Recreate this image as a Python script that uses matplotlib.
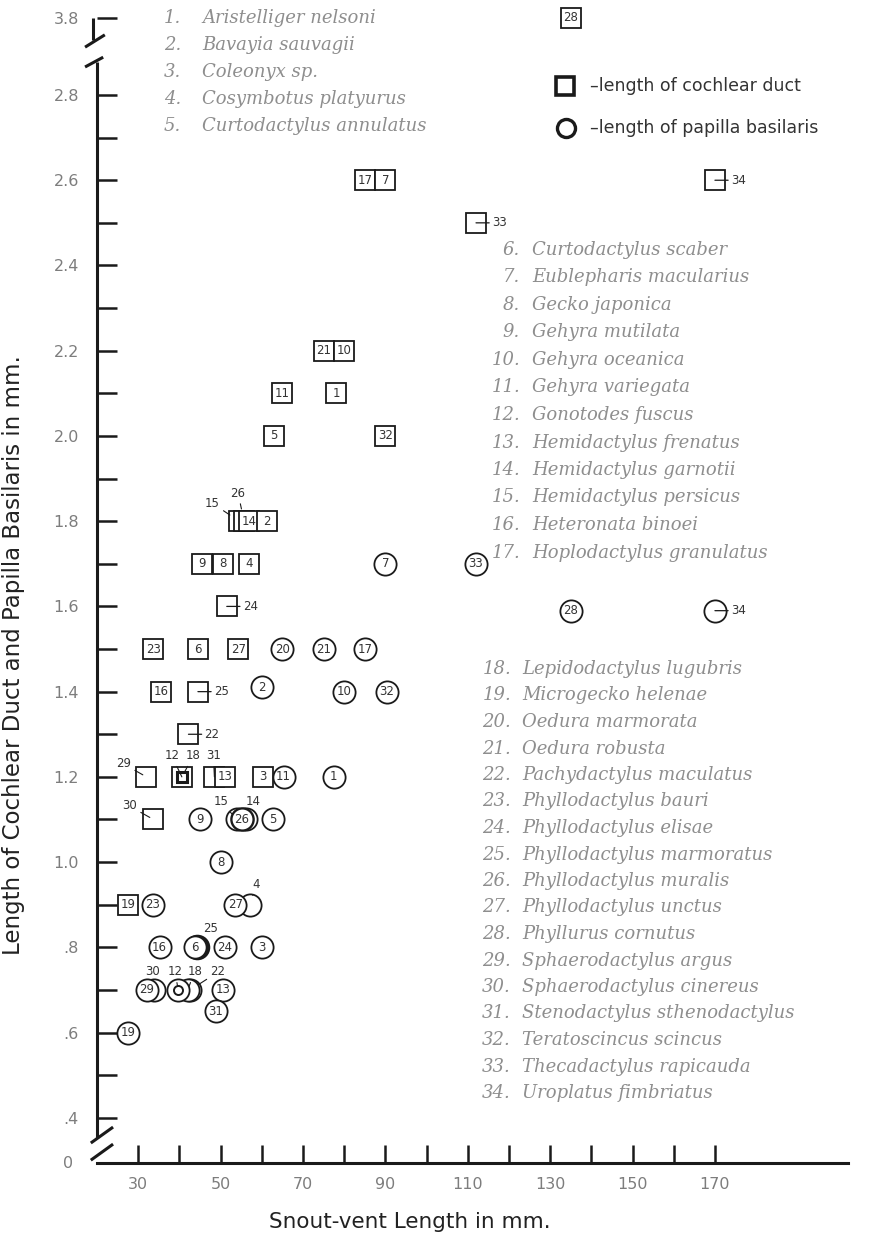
import numpy as np
import matplotlib
matplotlib.use("Agg")
import matplotlib.pyplot as plt
from matplotlib.lines import Line2D

plt.rcParams['font.family'] = ['DejaVu Sans']

# ---------------------------------------------------------------- data
species = [
    "Aristelliger nelsoni", "Bavayia sauvagii", "Coleonyx sp.",
    "Cosymbotus platyurus", "Curtodactylus annulatus",
    "Curtodactylus scaber", "Eublepharis macularius", "Gecko japonica",
    "Gehyra mutilata", "Gehyra oceanica", "Gehyra variegata",
    "Gonotodes fuscus", "Hemidactylus frenatus", "Hemidactylus garnotii",
    "Hemidactylus persicus", "Heteronata binoei", "Hoplodactylus granulatus",
    "Lepidodactylus lugubris", "Microgecko helenae", "Oedura marmorata",
    "Oedura robusta", "Pachydactylus maculatus", "Phyllodactylus bauri",
    "Phyllodactylus elisae", "Phyllodactylus marmoratus",
    "Phyllodactylus muralis", "Phyllodactylus unctus", "Phyllurus cornutus",
    "Sphaerodactylus argus", "Sphaerodactylus cinereus",
    "Stenodactylus sthenodactylus", "Teratoscincus scincus",
    "Thecadactylus rapicauda", "Uroplatus fimbriatus",
]

# length of cochlear duct (squares), listed in drawing order
duct_id = [28, 17, 7, 34, 33, 21, 10, 11, 1, 5, 32, 15, 26, 14, 2, 9, 8, 4,
           24, 23, 6, 27, 16, 25, 22, 29, 18, 12, 31, 13, 3, 30, 19]
duct_svl = [135, 85, 90, 170, 112, 75, 80, 65, 78, 63, 90, 54.5, 55.7, 56.9,
            61.2, 45.5, 50.5, 57, 51.5, 33.7, 44.5, 54.3, 35.5, 44.5, 42.2,
            32, 40.6, 40.6, 48.5, 51, 60.2, 33.7, 27.5]
duct_len = [3.8, 2.6, 2.6, 2.6, 2.5, 2.2, 2.2, 2.1, 2.1, 2.0, 2.0, 1.8, 1.8,
            1.8, 1.8, 1.7, 1.7, 1.7, 1.6, 1.5, 1.5, 1.5, 1.4, 1.4, 1.3,
            1.2, 1.2, 1.2, 1.2, 1.2, 1.2, 1.1, 0.9]

# length of papilla basilaris (circles), listed in drawing order
pap_id = [7, 33, 28, 34, 20, 21, 17, 2, 10, 32, 11, 1, 9, 15, 14, 26, 5, 8,
          23, 4, 27, 16, 25, 6, 24, 3, 30, 29, 22, 18, 12, 13, 31, 19]
pap_svl = [90, 112, 135, 170, 65, 75, 85, 60, 80, 90.3, 65.3, 77.5, 45, 54,
           56.2, 55.2, 62.7, 50, 33.6, 57.1, 53.6, 35.2, 44.3, 43.8, 51, 60,
           33.8, 32.1, 42.6, 42.0, 39.7, 50.5, 48.9, 27.5]
pap_len = [1.7, 1.7, 1.59, 1.59, 1.5, 1.5, 1.5, 1.41, 1.4, 1.4, 1.2, 1.2,
           1.1, 1.1, 1.1, 1.1, 1.1, 1.0, 0.9, 0.9, 0.9, 0.8, 0.8, 0.8, 0.8,
           0.8, 0.7, 0.7, 0.7, 0.7, 0.7, 0.7, 0.65, 0.6]

x_ticks = list(range(30, 171, 10))
x_ticklabels = [str(t) if t % 20 == 10 else "" for t in x_ticks]
y_ticks = [round(0.4 + 0.1 * i, 1) for i in range(25)] + [3.8]
y_ticklabels = ["3.8" if t == 3.8 else
                ("" if round(t * 10) % 2 else
                 (f"{t:.1f}" if t >= 1 else f"{t:.1f}"[1:]))
                for t in y_ticks]

# ---------------------------------------------------------------- styling
W, H = 881, 1240
INK = "#1a1a1a"
GREY = "#7d7d7d"
LIST_GREY = "#8e8e8e"
SQ_MS, CI_MS = 14.6, 16.0


def fig_xy(px, py):
    return px / W, 1 - py / H


# broken value axis: 0-0.4 and 2.8-3.8 are compressed
V_KNOTS = np.array([0.0, 0.4, 2.8, 3.8])
U_KNOTS = np.array([0.294, 0.4, 2.8, 2.981])


def _piecewise(x, xs, ys):
    x = np.asarray(x, dtype=float)
    mid = np.interp(x, xs, ys)
    lo = ys[0] + (x - xs[0]) * (ys[1] - ys[0]) / (xs[1] - xs[0])
    hi = ys[-1] + (x - xs[-1]) * (ys[-1] - ys[-2]) / (xs[-1] - xs[-2])
    return np.where(x < xs[0], lo, np.where(x > xs[-1], hi, mid))


def squash(v):
    return _piecewise(v, V_KNOTS, U_KNOTS)


def unsquash(u):
    return _piecewise(u, U_KNOTS, V_KNOTS)


# labels drawn beside a mark with a short stub line
duct_right = {34, 33, 24, 25, 22}
pap_right = {34}
# labels above a mark with a leader: (dx px, dy px up, shrink pt)
duct_leader = {15: (-27, 18, 8), 26: (-6, 28, 9), 29: (-23, 13, 3),
               30: (-24, 13.5, 3), 12: (-10, 21, 9), 18: (11.5, 21, 9),
               31: (-1, 21, 8)}
pap_leader = {15: (-16, 17.5, 8), 14: (7, 17.5, 8), 4: (6.5, 20, 7),
              25: (13, 18.5, 8), 30: (-1.5, 18, 8), 12: (-3, 18, 3),
              18: (7, 18, 7), 22: (28, 18, 3)}
heavy_circles = {25: 2.4, 26: 1.7}

fig = plt.figure(figsize=(W / 100, H / 100), dpi=100)
ax = fig.add_axes([97 / W, 77 / H, 751 / W, 1149 / H])
ax.set_yscale("function", functions=(squash, unsquash))
ax.set_xlim(20, 202.3)
ax.set_ylim(0, 3.85)

for side in ("top", "right", "left"):
    ax.spines[side].set_visible(False)
ax.spines["bottom"].set_linewidth(2.2)
ax.spines["bottom"].set_color(INK)

ax.set_xticks(x_ticks)
ax.set_xticklabels(x_ticklabels)
ax.set_yticks(y_ticks)
ax.set_yticklabels(y_ticklabels)
ax.yaxis.set_minor_locator(matplotlib.ticker.NullLocator())
ax.tick_params(axis="x", direction="in", length=13, width=1.8, color=INK,
               pad=10, labelsize=11.5, labelcolor=GREY)
ax.tick_params(axis="y", direction="in", length=14.5, width=1.8, color=INK,
               pad=13, labelsize=11.5, labelcolor=GREY)
ax.annotate("0", xy=(0, 0), xycoords=ax.get_yaxis_transform(),
            xytext=(-17, 0), textcoords="offset points", ha="right",
            va="center", fontsize=11.5, color=GREY)

# value axis drawn in pieces with break marks
axis_kw = dict(color=INK, lw=2.2, clip_on=False, solid_capstyle="butt")
ax.plot([20, 20], [0.221, 3.227], **axis_kw)
ax.plot([19, 19], [3.51, 3.8], **axis_kw)
ax.plot([17.1, 21.9], [3.42, 3.58], **axis_kw)
ax.plot([17.1, 21.5], [3.163, 3.29], **axis_kw)
ax.plot([18.5, 23.9], [0.177, 0.318], **axis_kw)
ax.plot([18.5, 23.9], [0.025, 0.167], **axis_kw)

num_kw = dict(fontsize=8.5, color="#333333", ha="center", va="center")


def label_mark(ident, x, y, z, right_set, leader_map):
    if ident in right_set:
        ax.annotate(str(ident), xy=(x, y), xytext=(11.5, 0),
                    textcoords="offset points", ha="left", va="center",
                    fontsize=8.5, color="#333333", zorder=z + 0.5,
                    arrowprops=dict(arrowstyle="-", lw=0.9, color=INK,
                                    shrinkA=0, shrinkB=0))
    elif ident in leader_map:
        dx, dy, shrink = leader_map[ident]
        ax.annotate(str(ident), xy=(x, y), xytext=(dx * 0.72, dy * 0.72),
                    textcoords="offset points", ha="center", va="center",
                    fontsize=8.5, color="#333333", zorder=z + 0.5,
                    arrowprops=dict(arrowstyle="-", lw=0.8, color=INK,
                                    shrinkA=1, shrinkB=shrink))
    else:
        ax.text(x, y, str(ident), zorder=z + 0.5, **num_kw)


z = 3
for ident, x, y in zip(duct_id, duct_svl, duct_len):
    if ident == 12:
        ax.plot(x, y, marker="s", ms=7, mfc="white", mec=INK, mew=2.2,
                ls="none", zorder=z, clip_on=False)
    else:
        ax.plot(x, y, marker="s", ms=SQ_MS, mfc="white", mec=INK, mew=1.3,
                ls="none", zorder=z, clip_on=False)
    label_mark(ident, x, y, z, duct_right, duct_leader)
    z += 1

for ident, x, y in zip(pap_id, pap_svl, pap_len):
    ax.plot(x, y, marker="o", ms=CI_MS, mfc="white", mec=INK,
            mew=heavy_circles.get(ident, 1.3), ls="none", zorder=z,
            clip_on=False)
    if ident == 12:
        ax.plot(x, y, marker="o", ms=6.5, mfc="white", mec=INK, mew=1.4,
                ls="none", zorder=z + 0.2, clip_on=False)
    label_mark(ident, x, y, z, pap_right, pap_leader)
    z += 1

# key
fig.add_artist(Line2D([fig_xy(565, 86)[0]], [fig_xy(565, 86)[1]], marker="s",
                      ms=12.5, mfc="white", mec=INK, mew=2.6,
                      transform=fig.transFigure))
fig.add_artist(Line2D([fig_xy(566, 128)[0]], [fig_xy(566, 128)[1]],
                      marker="o", ms=13, mfc="white", mec=INK, mew=2.4,
                      transform=fig.transFigure))
fig.text(*fig_xy(590, 86), "\u2013length of cochlear duct", ha="left",
         va="center", fontsize=12.5, color="#333333")
fig.text(*fig_xy(590, 128), "\u2013length of papilla basilaris", ha="left",
         va="center", fontsize=12.5, color="#333333")

# numbered species list in three blocks
list_kw = dict(family="DejaVu Serif", style="italic", fontsize=13,
               color=LIST_GREY, va="center")
blocks = [(range(1, 6), 181, 202, 18, 26.9),
          (range(6, 18), 520, 532, 250, 27.5),
          (range(18, 35), 511, 522, 669, 26.5)]
for ids, num_x, name_x, y0, step in blocks:
    for k, i in enumerate(ids):
        y = y0 + k * step
        fig.text(*fig_xy(num_x, y), f"{i}.", ha="right", **list_kw)
        fig.text(*fig_xy(name_x, y), species[i - 1], ha="left", **list_kw)

# axis titles
fig.text(*fig_xy(410, 1222), "Snout-vent Length in mm.", ha="center",
         va="center", fontsize=15.5, color="#222222")
fig.text(*fig_xy(14, 655), "Length of Cochlear Duct and Papilla Basilaris in mm.",
         ha="center", va="center", rotation=90, fontsize=16.5, color="#222222")

fig.savefig("out.png", dpi=100)
